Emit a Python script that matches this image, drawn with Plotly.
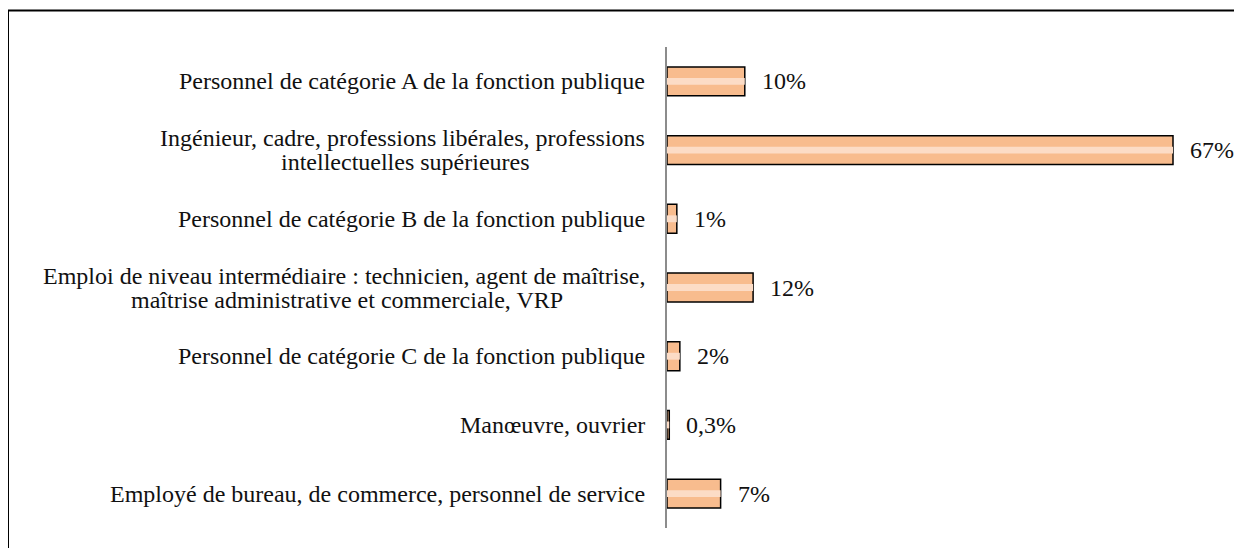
import plotly.graph_objects as go

categories = [
    "Personnel de catégorie A de la fonction publique",
    "Ingénieur, cadre, professions libérales, professions<br>intellectuelles supérieures",
    "Personnel de catégorie B de la fonction publique",
    "Emploi de niveau intermédiaire : technicien, agent de maîtrise,<br>maîtrise administrative et commerciale, VRP",
    "Personnel de catégorie C de la fonction publique",
    "Manœuvre, ouvrier",
    "Employé de bureau, de commerce, personnel de service",
]
values = [10.3, 67.0, 1.3, 11.4, 1.7, 0.3, 7.1]
value_labels = ["10%", "67%", "1%", "12%", "2%", "0,3%", "7%"]

# page body has an 8px margin, so the figure is sized to fit the window
W, H = 1234, 540
ML, MR, MT, MB = 659, 12, 39, 20
pw = W - ML - MR
ph = H - MT - MB
px_per_unit = (1165 - 659) / 67.0
xmax = pw / px_per_unit

FS = 24
font = dict(family="Liberation Serif, Times New Roman, serif", size=FS, color="#111111")
LABEL_GAP = -20
# horizontal centre (px from the axis) of the wrapped second lines
second_line_centre = {1: -262, 3: -320}

fig = go.Figure()
fig.add_trace(go.Bar(
    y=categories, x=values, orientation="h", width=0.42,
    marker=dict(color="#F8BC8E", line=dict(color="black", width=1.5)),
    hoverinfo="skip",
))
fig.add_trace(go.Bar(
    y=categories, x=values, orientation="h", width=0.1,
    marker=dict(color="#FCDCC6", line=dict(width=0)),
    hoverinfo="skip",
))

annotations = []
for i, (c, v, t) in enumerate(zip(categories, values, value_labels)):
    annotations.append(dict(x=v, y=c, xref="x", yref="y", text=t, showarrow=False,
                            xanchor="left", xshift=15, font=font))
    lines = c.split("<br>")
    if len(lines) == 1:
        annotations.append(dict(x=0, y=c, xref="paper", yref="y", text=c, showarrow=False,
                                xanchor="right", xshift=LABEL_GAP, font=font))
    else:
        l1, l2 = lines
        annotations.append(dict(x=0, y=c, xref="paper", yref="y", text=l1, showarrow=False,
                                xanchor="right", xshift=LABEL_GAP, yshift=12, font=font))
        annotations.append(dict(x=0, y=c, xref="paper", yref="y", text=l2, showarrow=False,
                                xanchor="center", xshift=second_line_centre[i], yshift=-12,
                                font=font))

fig.update_layout(
    width=W, height=H,
    margin=dict(l=ML, r=MR, t=MT, b=MB),
    paper_bgcolor="white", plot_bgcolor="white",
    barmode="overlay", showlegend=False,
    xaxis=dict(range=[0, xmax], visible=False, fixedrange=True),
    yaxis=dict(autorange="reversed", showticklabels=False, showline=True,
               linecolor="#8C8C8C", linewidth=1.5, ticks="", showgrid=False),
    annotations=annotations,
    shapes=[dict(type="rect", xref="paper", yref="paper",
                 x0=(0 - ML) / pw, x1=1.2, y0=-0.3, y1=(H - MB - 2.5) / ph,
                 line=dict(color="black", width=2), fillcolor="rgba(0,0,0,0)", layer="above")],
)

fig.write_html("out.html")
